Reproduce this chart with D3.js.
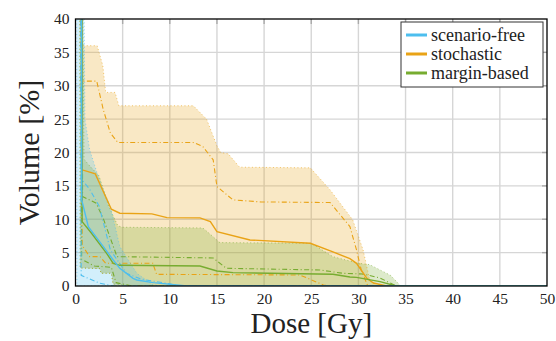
<!DOCTYPE html>
<html>
<head>
<meta charset="utf-8">
<script src="https://cdn.jsdelivr.net/npm/d3@7"></script>
<style>
  body { margin: 0; background: #fff; }
</style>
</head>
<body>
<script>
// dose-volume data, [dose Gy, volume %]
var doseTicks = [0, 5, 10, 15, 20, 25, 30, 35, 40, 45, 50];
var volTicks = [0, 5, 10, 15, 20, 25, 30, 35, 40];
var methods = ["scenario-free", "stochastic", "margin-based"];

var freeMax = [[0,100],[0.6,100],[1.0,25],[1.5,20.4],[2.5,16],[3.7,11.9],[4.7,5.9],[6.5,1.9],[8.2,0.2],[9,0],[50,0]];
var freeUpQ = [[0,100],[0.6,100],[0.7,15.9],[1.5,14.5],[2.5,12],[3.7,5.4],[5.4,1.9],[7,1.0],[9.7,0.4],[11,0],[50,0]];
var freeMed = [[0,100],[0.6,100],[0.66,12.9],[1.36,8.9],[2.95,5.9],[4,3.9],[4.7,2.65],[6.1,1.15],[6.5,0.9],[8.25,0.5],[11.8,0],[50,0]];
var freeLoQ = [[0,100],[0.5,100],[0.6,1.6],[2.6,0.4],[4,0],[50,0]];
var freeMin = [[0,100],[0.1,100],[0.15,0],[50,0]];

var stochMax = [[0,100],[0.45,100],[0.55,36],[2.3,36],[2.9,33],[3.2,29],[4.2,29],[4.6,27],[12.5,27],[13.9,25],[15,21],[15.4,20],[16.2,19.8],[17.4,17.8],[24.9,17.7],[27,14.4],[29.4,9.9],[30.5,5.4],[31.2,0.9],[32,0],[50,0]];
var stochUpQ = [[0,100],[0.5,100],[0.6,30.7],[2.25,30.7],[2.95,26.4],[3.7,22.9],[4.5,21.5],[12.5,21.5],[13.5,20.9],[14.6,18.9],[15,14.9],[16.7,12.9],[19.6,12.6],[27,12.5],[29.1,8.9],[29.8,5.4],[30.3,2.4],[31,0],[50,0]];
var stochMed = [[0,100],[0.6,100],[0.7,17.4],[2.1,16.8],[3.8,11.5],[4.7,10.9],[8.1,10.8],[9.7,10.25],[13.2,10.2],[14.3,9.65],[15,8.15],[18.5,6.9],[24.9,6.4],[27.3,5.1],[29.1,4.1],[29.8,3.4],[30.9,1.15],[31.6,0.45],[33,0],[50,0]];
var stochLoQ = [[0,100],[0.6,100],[0.7,6.1],[1.5,4.4],[2.6,4.4],[3.2,3.4],[8.2,3.4],[8.6,1.75],[23.8,1.65],[26.3,0.15],[27,0],[50,0]];
var stochMin = [[0,100],[0.4,100],[0.5,2.7],[2.6,2.6],[2.7,1.9],[3.8,1.9],[4,0],[50,0]];

var margMax = [[0,100],[0.5,100],[0.9,19],[1.5,18],[2.5,16.5],[3.5,12],[4.5,9],[5,8.8],[13.5,8.7],[14.5,7.5],[15.3,6.5],[25,6.4],[27.3,4.4],[30,3.4],[31.2,3.2],[33.4,1.6],[34.5,0],[50,0]];
var margUpQ = [[0,100],[0.6,100],[0.75,13.4],[2.2,12.4],[3,9.9],[4.4,4.4],[14.6,4.2],[16,2.65],[25.9,2.4],[28.4,1.9],[30.5,1.8],[32.3,1.2],[34,0],[50,0]];
var margMed = [[0,100],[0.6,100],[0.7,9.65],[1.7,7.9],[3.3,4.9],[4,3.4],[4.7,3.1],[13.2,3.0],[15,2.25],[16.7,2.0],[27.3,1.75],[29.1,1.35],[29.8,1.3],[32.3,0.65],[34,0],[50,0]];
var margLoQ = [[0,100],[0.55,100],[0.65,4],[2,3],[3.8,2.8],[4.3,0.5],[6,0],[50,0]];
var margMin = [[0,100],[0.4,100],[0.5,2.7],[2.6,2.6],[2.7,1.9],[3.8,1.9],[4,0.3],[6,0],[50,0]];

var colors = { "scenario-free": "#4DBEEE", "stochastic": "#E9A316", "margin-based": "#77AC30" };
var serif = "Liberation Serif";

var series = [
  { name: "stochastic", max: stochMax, upq: stochUpQ, med: stochMed, loq: stochLoQ, min: stochMin },
  { name: "margin-based", max: margMax, upq: margUpQ, med: margMed, loq: margLoQ, min: margMin },
  { name: "scenario-free", max: freeMax, upq: freeUpQ, med: freeMed, loq: freeLoQ, min: freeMin }
];

var width = 556, height = 341;
var margin = { top: 19, right: 9, bottom: 55, left: 75.5 };
var w = width - margin.left - margin.right;
var h = height - margin.top - margin.bottom;

var svg = d3.select("body").append("svg").attr("width", width).attr("height", height)
  .attr("font-family", serif);
var g = svg.append("g").attr("transform", `translate(${margin.left},${margin.top})`);

var x = d3.scaleLinear().domain([0, 50]).range([0, w]);
var y = d3.scaleLinear().domain([0, 40]).range([h, 0]);

svg.append("defs").append("clipPath").attr("id", "clip")
  .append("rect").attr("width", w).attr("height", h);

// grid
g.append("g").selectAll("line").data(doseTicks.slice(1, -1)).join("line")
  .attr("x1", d => x(d)).attr("x2", d => x(d)).attr("y1", 0).attr("y2", h)
  .attr("stroke", "#d6d6d6").attr("stroke-width", 1.4);
g.append("g").selectAll("line").data(volTicks.slice(1, -1)).join("line")
  .attr("y1", d => y(d)).attr("y2", d => y(d)).attr("x1", 0).attr("x2", w)
  .attr("stroke", "#d6d6d6").attr("stroke-width", 1.4);

var plot = g.append("g").attr("clip-path", "url(#clip)");

var line = d3.line().x(d => x(d[0])).y(d => y(d[1]));

// bands between min and max
function bandPath(lo, hi) {
  var pts = hi.concat(lo.slice().reverse());
  return line(pts) + "Z";
}
series.forEach(s => {
  plot.append("path").attr("d", bandPath(s.min, s.max))
    .attr("fill", colors[s.name]).attr("fill-opacity", 0.25).attr("stroke", "none");
});

series.forEach(s => {
  [s.max, s.min].forEach(arr => {
    plot.append("path").datum(arr).attr("d", line).attr("fill", "none")
      .attr("stroke", colors[s.name]).attr("stroke-width", 1).attr("stroke-opacity", 0.6)
      .attr("stroke-dasharray", "1,2.5");
  });
  [s.upq, s.loq].forEach(arr => {
    plot.append("path").datum(arr).attr("d", line).attr("fill", "none")
      .attr("stroke", colors[s.name]).attr("stroke-width", 1.1)
      .attr("stroke-dasharray", "5,2.5,1,2.5");
  });
});
series.forEach(s => {
  plot.append("path").datum(s.med).attr("d", line).attr("fill", "none")
    .attr("stroke", colors[s.name]).attr("stroke-width", 1.4);
});

// axes
var xAxis = g.append("g").attr("transform", `translate(0,${h})`)
  .call(d3.axisBottom(x).tickValues(doseTicks).tickSize(0).tickPadding(7));
var yAxis = g.append("g")
  .call(d3.axisLeft(y).tickValues(volTicks).tickSize(0).tickPadding(6));
[xAxis, yAxis].forEach(a => {
  a.attr("font-family", serif).attr("font-size", 15.5);
  a.select(".domain").remove();
  a.selectAll("text").attr("fill", "#222");
});

// inner tick marks on top and right
g.append("g").selectAll("line").data(doseTicks.slice(1, -1)).join("line")
  .attr("x1", d => x(d)).attr("x2", d => x(d)).attr("y1", 0).attr("y2", 5)
  .attr("stroke", "#aaa").attr("stroke-width", 1.4);
g.append("g").selectAll("line").data(volTicks.slice(1, -1)).join("line")
  .attr("y1", d => y(d)).attr("y2", d => y(d)).attr("x1", w - 5).attr("x2", w)
  .attr("stroke", "#aaa").attr("stroke-width", 1.4);

// frame
g.append("rect").attr("width", w).attr("height", h)
  .attr("fill", "none").attr("stroke", "#000").attr("stroke-width", 1.3);

// axis titles
svg.append("text").attr("x", margin.left + w / 2).attr("y", 333)
  .attr("text-anchor", "middle").attr("font-size", 29)
  .attr("fill", "#222").text("Dose [Gy]");
svg.append("text").attr("transform", `translate(39,${margin.top + h / 2}) rotate(-90)`)
  .attr("text-anchor", "middle").attr("font-size", 30)
  .attr("fill", "#222").text("Volume [%]");

// legend
var lg = svg.append("g").attr("transform", "translate(401,22)");
lg.append("rect").attr("width", 142).attr("height", 65)
  .attr("fill", "#fff").attr("stroke", "#333").attr("stroke-width", 1);
methods.forEach((m, i) => {
  var yy = 13 + i * 19;
  lg.append("line").attr("x1", 5).attr("x2", 26).attr("y1", yy).attr("y2", yy)
    .attr("stroke", colors[m]).attr("stroke-width", 3);
  lg.append("text").attr("x", 30).attr("y", yy + 5.5)
    .attr("font-size", 18).attr("fill", "#222").text(m);
});
</script>
</body>
</html>
